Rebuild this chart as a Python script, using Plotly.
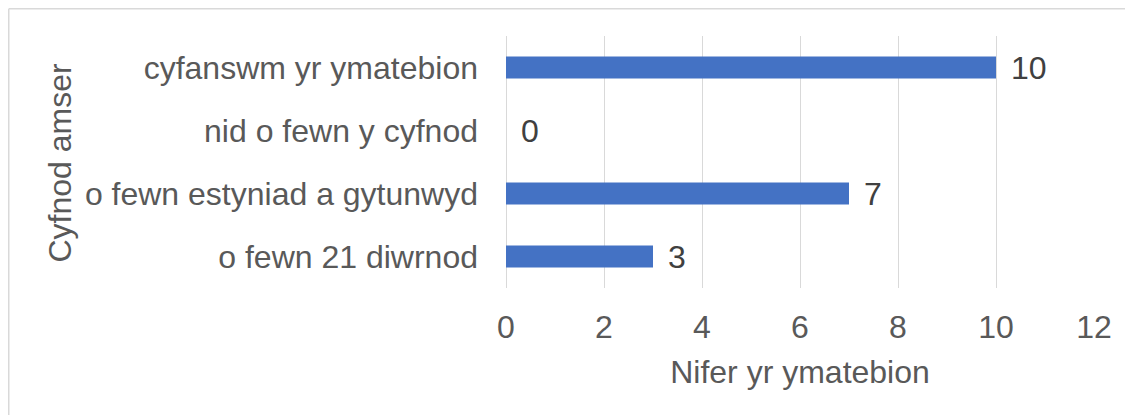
import plotly.graph_objects as go

# --- data (bottom to top, as drawn) ---
categories = ['o fewn 21 diwrnod', 'o fewn estyniad a gytunwyd', 'nid o fewn y cyfnod', 'cyfanswm yr ymatebion']
responses = [3, 7, 0, 10]
x_ticks = [0, 2, 4, 6, 8, 10, 12]

FONT = 'Liberation Sans, Arial, sans-serif'
FS = 32
# the page adds an 8px body margin, so the figure is 8px smaller each way
W, H = 1125, 407
L, R, T, B = 498, 39, 28, 127
plot_w = W - L - R
plot_h = H - T - B


def px_x(p):
    return (p - L) / plot_w


def px_y(p):
    return (H - B - p) / plot_h


fig = go.Figure()
fig.add_trace(go.Bar(
    y=categories, x=responses, orientation='h',
    marker=dict(color='#4472C4', line=dict(width=0)),
    hoverinfo='skip',
))

# data labels next to each bar end
for cat, val in zip(categories, responses):
    fig.add_annotation(x=val, y=cat, text=str(val), showarrow=False,
                       xanchor='left', yanchor='middle', xshift=13,
                       font=dict(family=FONT, size=FS, color='#404040'))

# y axis title placed like the Excel one
fig.add_annotation(text='Cyfnod amser', textangle=-90, showarrow=False,
                   xref='paper', yref='paper', x=px_x(51), y=px_y(154.5),
                   xanchor='center', yanchor='middle',
                   font=dict(family=FONT, size=FS, color='#595959'))

# chart border (top and left edges visible)
border = dict(color='#D9D9D9', width=1.5)
fig.add_shape(type='line', xref='paper', yref='paper',
              x0=px_x(0.75), x1=px_x(W + 5), y0=px_y(0.75), y1=px_y(0.75), line=border)
fig.add_shape(type='line', xref='paper', yref='paper',
              x0=px_x(0.75), x1=px_x(0.75), y0=px_y(0.75), y1=px_y(H + 5), line=border)

fig.update_layout(
    width=W, height=H,
    margin=dict(l=L, r=R, t=T, b=B, pad=0),
    plot_bgcolor='white', paper_bgcolor='white',
    bargap=0.65, showlegend=False,
    font=dict(family=FONT, size=FS, color='#595959'),
)
fig.update_xaxes(
    range=[0, 12], tickvals=x_ticks, showgrid=True, gridcolor='#D9D9D9', gridwidth=1,
    zeroline=True, zerolinecolor='#D9D9D9', zerolinewidth=1, showline=False,
    ticks='', ticklabelstandoff=17,
    tickfont=dict(family=FONT, size=FS, color='#595959'),
    title=dict(text='Nifer yr ymatebion', standoff=16,
               font=dict(family=FONT, size=FS, color='#595959')),
)
fig.update_yaxes(
    categoryorder='array', categoryarray=categories,
    showgrid=False, showline=False, ticks='', ticklabelstandoff=27,
    tickfont=dict(family=FONT, size=FS, color='#595959'),
)

fig.write_html('out.html')
